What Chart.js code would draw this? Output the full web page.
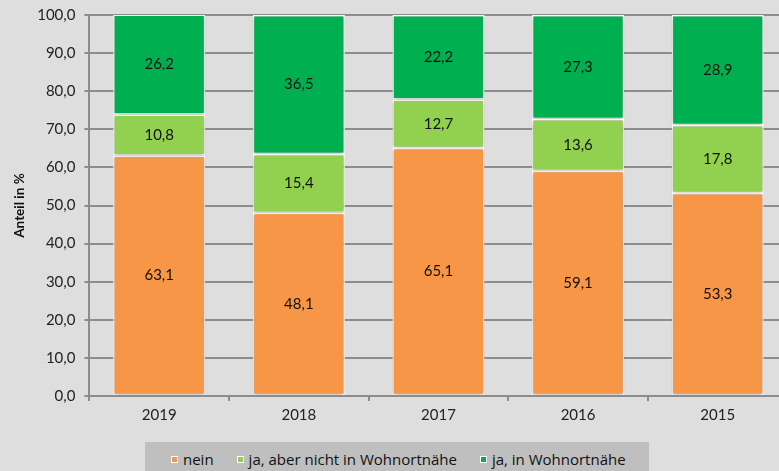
<!DOCTYPE html>
<html lang="de">
<head>
    <meta charset="UTF-8">
    <title>Anteil in %</title>
    <script src="https://cdn.jsdelivr.net/npm/chart.js"></script>
    <style>
        body {
            margin: 0;
            background: #dedede;
            overflow: hidden;
        }
        .wrap {
            position: relative;
            width: 795px;
            height: 471px;
        }
        .legend {
            position: absolute;
            left: 145px;
            top: 442px;
            width: 504px;
            height: 36px;
            background: #bfbfbf;
            display: flex;
            justify-content: flex-start;
            align-items: flex-start;
            padding: 7px 0 0 26px;
            box-sizing: border-box;
            font-family: "Open Sans", sans-serif;
            font-size: 15px;
            line-height: 20px;
            color: #111;
            white-space: nowrap;
        }
        .legend span.item {
            display: flex;
            align-items: center;
            flex-shrink: 0;
            margin-right: 23px;
        }
        .legend span.box {
            width: 5px;
            height: 5px;
            flex-shrink: 0;
            border: 1.5px solid #fff;
            margin-right: 5px;
        }
    </style>
</head>
<body>
    <div class="wrap">
        <canvas id="chart" width="795" height="471"></canvas>
        <div class="legend" id="legend"></div>
    </div>

    <script>
        // Jahre und Anteile je Antwort
        const years = ["2019", "2018", "2017", "2016", "2015"];
        const nein = [63.1, 48.1, 65.1, 59.1, 53.3];
        const jaNichtNah = [10.8, 15.4, 12.7, 13.6, 17.8];
        const jaNah = [26.2, 36.5, 22.2, 27.3, 28.9];
        const yTicks = [0, 10, 20, 30, 40, 50, 60, 70, 80, 90, 100];

        const seriesNames = ["nein", "ja, aber nicht in Wohnortnähe", "ja, in Wohnortnähe"];
        const seriesColors = ["#f79646", "#92d050", "#00b050"];

        const fmt = v => v.toFixed(1).replace(".", ",");

        Chart.defaults.font.family = "Lato, 'Open Sans', sans-serif";
        Chart.defaults.font.size = 15;
        Chart.defaults.color = "#222";

        // leichter Schatten hinter den Balken
        const shadowPlugin = {
            id: "barShadow",
            beforeDatasetsDraw(chart) {
                const ctx = chart.ctx;
                ctx.save();
                ctx.shadowColor = "rgba(0,0,0,0.3)";
                ctx.shadowBlur = 4;
                ctx.shadowOffsetX = 0;
                ctx.shadowOffsetY = 1;
            },
            afterDatasetsDraw(chart) {
                chart.ctx.restore();
            }
        };

        // Werte mittig in die Segmente schreiben
        const valueLabels = {
            id: "valueLabels",
            afterDatasetsDraw(chart) {
                const ctx = chart.ctx;
                ctx.save();
                ctx.font = "15px Lato, 'Open Sans', sans-serif";
                ctx.fillStyle = "#111";
                ctx.textAlign = "center";
                ctx.textBaseline = "middle";
                chart.data.datasets.forEach((ds, i) => {
                    chart.getDatasetMeta(i).data.forEach((bar, j) => {
                        const yMid = (bar.y + bar.base) / 2;
                        ctx.fillText(fmt(ds.data[j]), bar.x, yMid);
                    });
                });
                ctx.restore();
            }
        };

        const datasets = [nein, jaNichtNah, jaNah].map((data, i) => ({
            label: seriesNames[i],
            data: data,
            backgroundColor: seriesColors[i],
            borderColor: "#ffffff",
            borderWidth: 1.5,
            borderSkipped: false,
            categoryPercentage: 1,
            barPercentage: 0.66
        }));

        new Chart(document.getElementById("chart"), {
            type: "bar",
            data: { labels: years, datasets: datasets },
            options: {
                responsive: false,
                animation: false,
                layout: { padding: { left: 2, right: 7.5, top: 15, bottom: 42 } },
                plugins: {
                    legend: { display: false },
                    tooltip: { enabled: false }
                },
                scales: {
                    x: {
                        stacked: true,
                        grid: {
                            drawOnChartArea: false,
                            drawTicks: true,
                            tickLength: 5,
                            color: "#8c8c8c",
                            lineWidth: 2,
                            offset: true
                        },
                        border: { color: "#8c8c8c", width: 2 },
                        ticks: { padding: 5, color: "#222" }
                    },
                    y: {
                        stacked: true,
                        min: 0,
                        max: 100,
                        afterBuildTicks(axis) {
                            axis.ticks = yTicks.map(v => ({ value: v }));
                        },
                        // oberes Label darf über den Rand ragen
                        afterFit(axis) {
                            axis.paddingTop = 0;
                        },
                        ticks: {
                            padding: 9,
                            color: "#222",
                            callback: v => fmt(v)
                        },
                        grid: {
                            color: "#8c8c8c",
                            lineWidth: 2,
                            tickLength: 5
                        },
                        border: { color: "#8c8c8c", width: 2 },
                        title: {
                            display: true,
                            text: "Anteil in %",
                            color: "#111",
                            font: { size: 13.5, weight: "bold" },
                            padding: { top: 10, bottom: 0 }
                        }
                    }
                }
            },
            plugins: [shadowPlugin, valueLabels]
        });

        // Legende unter dem Diagramm
        const legend = document.getElementById("legend");
        seriesNames.forEach((name, i) => {
            const item = document.createElement("span");
            item.className = "item";
            item.innerHTML = `<span class="box" style="background:${seriesColors[i]}"></span>${name}`;
            legend.appendChild(item);
        });
    </script>
</body>
</html>
